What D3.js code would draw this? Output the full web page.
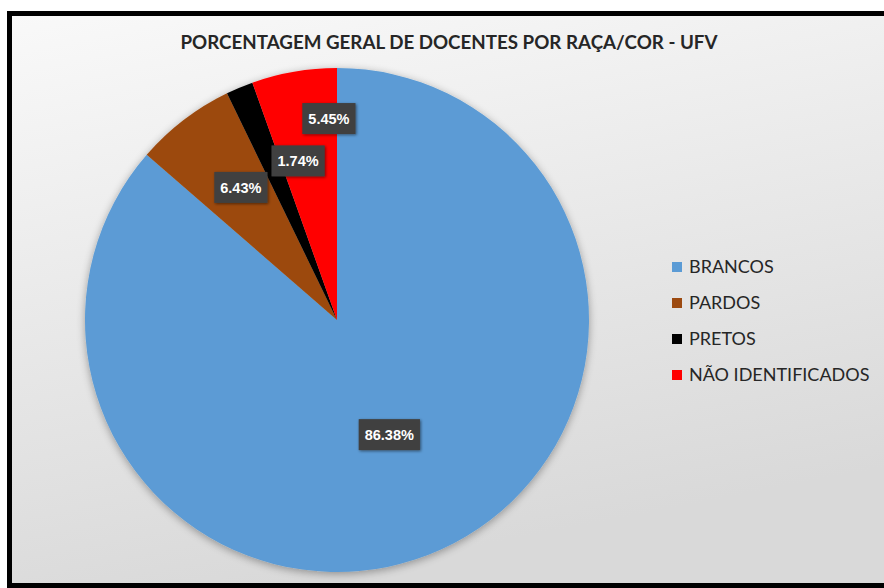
<!DOCTYPE html>
<html><head><meta charset="utf-8">
<script src="https://cdn.jsdelivr.net/npm/d3@7"></script>
<style>html,body{margin:0;padding:0;background:#fff;}svg{display:block;}</style>
</head><body>
<svg id="chart" width="884" height="588"></svg>
<script>
const title = "PORCENTAGEM GERAL DE DOCENTES POR RAÇA/COR - UFV";
const categories = ["BRANCOS", "PARDOS", "PRETOS", "NÃO IDENTIFICADOS"];
const values = [86.38, 6.43, 1.74, 5.45];
const colors = ["#5b9bd5", "#9c4a10", "#000000", "#ff0000"];
// label placement (fraction of radius, angular nudge in degrees) to mimic Excel "best fit"
const labelRadius = [0.5, 0.65, 0.65, 0.8];
const labelNudge = [0, 1.5, 9, 7.5];

const svg = d3.select("#chart");
const W = 884, H = 588;
const defs = svg.append("defs");
const bg = defs.append("linearGradient").attr("id","bg").attr("x1",0).attr("y1",0).attr("x2",0.3).attr("y2",1);
bg.append("stop").attr("offset","0%").attr("stop-color","#f9f9f9");
bg.append("stop").attr("offset","100%").attr("stop-color","#d9d9d9");
const sh = defs.append("filter").attr("id","sh").attr("x","-20%").attr("y","-20%").attr("width","140%").attr("height","140%");
sh.append("feGaussianBlur").attr("in","SourceAlpha").attr("stdDeviation",4).attr("result","b");
sh.append("feOffset").attr("in","b").attr("dx",0).attr("dy",2).attr("result","o");
sh.append("feComponentTransfer").attr("in","o").attr("result","o2").append("feFuncA").attr("type","linear").attr("slope",0.35);
const mg = sh.append("feMerge"); mg.append("feMergeNode").attr("in","o2"); mg.append("feMergeNode").attr("in","SourceGraphic");
const sh2 = defs.append("filter").attr("id","sh2").attr("x","-20%").attr("y","-20%").attr("width","140%").attr("height","140%");
sh2.append("feGaussianBlur").attr("in","SourceAlpha").attr("stdDeviation",1.5).attr("result","b");
sh2.append("feOffset").attr("in","b").attr("dx",1).attr("dy",1).attr("result","o");
sh2.append("feComponentTransfer").attr("in","o").attr("result","o2").append("feFuncA").attr("type","linear").attr("slope",0.5);
const mg2 = sh2.append("feMerge"); mg2.append("feMergeNode").attr("in","o2"); mg2.append("feMergeNode").attr("in","SourceGraphic");

// background + border
svg.append("rect").attr("x",0).attr("y",0).attr("width",W).attr("height",H).attr("fill","#fff");
svg.append("rect").attr("x",9.5).attr("y",13.5).attr("width",W).attr("height",572).attr("fill","url(#bg)")
  .attr("stroke","#000").attr("stroke-width",5);

svg.append("text").attr("x",449).attr("y",49).attr("text-anchor","middle")
  .attr("font-family","Lato, 'Open Sans', sans-serif").attr("font-weight","bold").attr("font-size",19)
  .attr("fill","#262626").attr("textLength",537).attr("lengthAdjust","spacingAndGlyphs").text(title);

const cx = 337, cy = 320, r = 252;
const data = categories.map((c,i)=>({cat:c, value:values[i], color:colors[i], i}));
const pie = d3.pie().value(d=>d.value).sort(null);
const arcs = pie(data);
const arc = d3.arc().innerRadius(0).outerRadius(r);
const g = svg.append("g").attr("transform",`translate(${cx},${cy})`);
g.append("g").attr("filter","url(#sh)").selectAll("path").data(arcs).join("path")
  .attr("d",arc).attr("fill",d=>d.data.color);

const fmt = v => d3.format(".2f")(v) + "%";
arcs.forEach(a=>{
  const i = a.data.i;
  const ang = (a.startAngle + a.endAngle)/2 + labelNudge[i]*Math.PI/180;
  const rr = r*labelRadius[i];
  const x = Math.sin(ang)*rr, y = -Math.cos(ang)*rr;
  const lg = g.append("g").attr("transform",`translate(${x},${y})`);
  const t = lg.append("text").attr("text-anchor","middle").attr("dy","0.36em")
    .attr("font-family","'Liberation Sans', Arial, sans-serif").attr("font-weight","bold").attr("font-size",14.5)
    .attr("fill","#fff").text(fmt(a.data.value));
  const bb = t.node().getBBox();
  lg.insert("rect","text").attr("x",bb.x-6).attr("y",-15.5).attr("width",bb.width+12).attr("height",31)
    .attr("fill","#404040").attr("filter","url(#sh2)");
});

const leg = svg.append("g").attr("transform","translate(672,267)");
data.forEach((d,i)=>{
  const row = leg.append("g").attr("transform",`translate(0,${i*36})`);
  row.append("rect").attr("x",0).attr("y",-5).attr("width",10).attr("height",10).attr("fill",d.color);
  row.append("text").attr("x",17).attr("y",0).attr("dy","0.36em")
    .attr("font-family","Lato, 'Open Sans', sans-serif").attr("font-size",18).attr("fill","#262626").text(d.cat);
});
</script>
</body></html>
